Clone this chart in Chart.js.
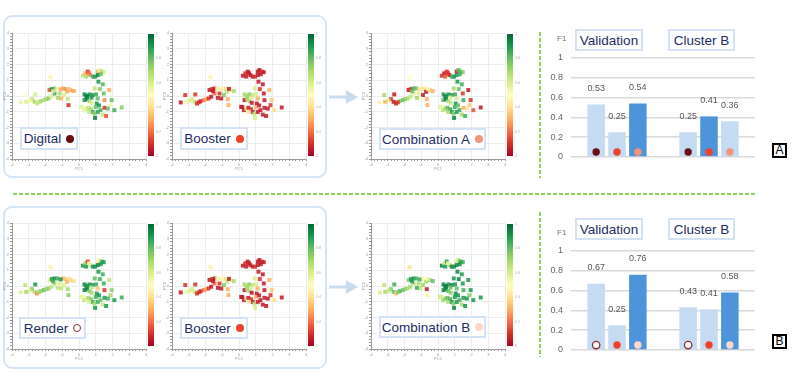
<!DOCTYPE html>
<html>
<head>
<meta charset="utf-8">
<script src="https://cdn.jsdelivr.net/npm/chart.js@4"></script>
<style>
    body { margin: 0; width: 796px; height: 379px; background: #fff; position: relative; overflow: hidden;
           font-family: "Liberation Sans", Arial, sans-serif; }
    canvas { position: absolute; }
    .panel { position: absolute; border: 2px solid #d6e5f5; border-radius: 9px; box-sizing: border-box; }
    .tag { position: absolute; box-sizing: border-box; border: 2px solid #d3e2f4; background: #fff; color: #1d2c66;
           font-size: 13.5px; display: flex; align-items: center; justify-content: center; white-space: nowrap; }
    .dot { display: inline-block; width: 8px; height: 8px; border-radius: 50%; margin-left: 5px; box-sizing: border-box; }
    .f1 { position: absolute; font-size: 8px; color: #777; }
    .letter { position: absolute; width: 15px; height: 15px; border: 2px solid #000; box-sizing: border-box; background: #fff;
              font-size: 12px; line-height: 11px; text-align: center; color: #000; }
    svg { position: absolute; left: 0; top: 0; }
</style>
</head>
<body>
<div class="panel" style="left:3px;top:15px;width:324px;height:163px"></div>
<div class="panel" style="left:3px;top:206px;width:324px;height:163px"></div>

<svg width="796" height="379">
    <g stroke="#92d050" stroke-width="2" stroke-dasharray="4 2" fill="none">
        <line x1="13" y1="194" x2="757" y2="194"/>
        <line x1="540" y1="32" x2="540" y2="178"/>
        <line x1="540" y1="212" x2="540" y2="357"/>
    </g>
    <g stroke="#c8dbef" stroke-width="3" fill="#c8dbef">
        <line x1="329" y1="97" x2="348" y2="97"/>
        <polygon points="346,90 358,97 346,104" stroke="none"/>
        <line x1="329" y1="287" x2="348" y2="287"/>
        <polygon points="346,280 358,287 346,294" stroke="none"/>
    </g>
</svg>

<canvas id="sc-digital" width="160" height="142" style="left:2px;top:29px"></canvas>
<canvas id="sc-booster-a" width="160" height="142" style="left:162px;top:29px"></canvas>
<canvas id="sc-combo-a" width="160" height="142" style="left:361px;top:29px"></canvas>
<canvas id="sc-render" width="160" height="142" style="left:2px;top:219px"></canvas>
<canvas id="sc-booster-b" width="160" height="142" style="left:162px;top:219px"></canvas>
<canvas id="sc-combo-b" width="160" height="142" style="left:361px;top:219px"></canvas>

<div class="tag" style="left:20px;top:127px;width:58px;height:23px">Digital<span class="dot" style="background:#6d0d16"></span></div>
<div class="tag" style="left:180px;top:127px;width:68px;height:23px">Booster<span class="dot" style="background:#f2412b"></span></div>
<div class="tag" style="left:379px;top:128px;width:107px;height:22px">Combination A<span class="dot" style="background:#f4937a"></span></div>
<div class="tag" style="left:19px;top:317px;width:67px;height:22px">Render<span class="dot" style="background:#fff;border:1.5px solid #8b2a32"></span></div>
<div class="tag" style="left:180px;top:317px;width:68px;height:22px">Booster<span class="dot" style="background:#f2412b"></span></div>
<div class="tag" style="left:379px;top:316px;width:107px;height:22px">Combination B<span class="dot" style="background:#fcd9c9"></span></div>

<canvas id="bar-a" width="215" height="111" style="left:545px;top:50px"></canvas>
<canvas id="bar-b" width="215" height="111" style="left:545px;top:243px"></canvas>

<div class="tag" style="left:575px;top:29px;width:68px;height:22px">Validation</div>
<div class="tag" style="left:668px;top:29px;width:67px;height:22px">Cluster B</div>
<div class="tag" style="left:575px;top:218px;width:68px;height:22px">Validation</div>
<div class="tag" style="left:668px;top:218px;width:67px;height:22px">Cluster B</div>
<div class="f1" style="left:557px;top:34px">F1</div>
<div class="f1" style="left:557px;top:228px">F1</div>
<div class="letter" style="left:772px;top:143px">A</div>
<div class="letter" style="left:772px;top:334px">B</div>

<script>
'use strict';

// ---- embedding positions (PC1, PC2), shared by all six maps ----
const pcX = [
    -3.48, -3.21, -3.15, -2.81, -2.61, -2.65, -2.51, -2.29, -2.10, -1.96,
    -1.82, -1.66, -1.70, -1.76, -1.62, -1.46, -1.30, -1.16, -0.96, -0.80,
    -0.71, -0.51, -0.31, -0.90, -1.06, -0.67, -0.63, -1.26, -1.46, -2.95,
    -2.40, -1.55, -1.10, -0.60,
    0.23, 0.37, 0.52, 0.68, 0.82, 0.96, 1.12, 1.22, 1.36, 1.48,
    1.12, 0.43, 1.16, 1.42, 0.94, 1.24, 1.81, 0.60, 1.30,
    0.33, 0.43, 0.33, 0.48, 0.62, 0.82, 1.02, 1.12, 1.48, 1.52,
    1.95, 1.52, 1.88, 2.11, 2.55, 0.13, 0.29, 0.43, 0.56, 0.72,
    0.82, 0.96, 0.92, 1.12, 1.28, 1.42, 1.62, 1.72, 0.62, 0.76,
    1.06, 0.50, 0.75, 0.20, 1.00, 1.20, 0.60
];
const pcY = [
    -0.41, 0.06, -0.37, -0.20, 0.10, -0.37, -0.48, -0.33, -0.26, -0.20,
    -0.16, -0.05, 1.19, 0.38, 0.44, 0.48, 0.48, 0.16, 0.48, 0.44,
    0.27, 0.38, 0.31, 0.06, -0.16, -0.20, -0.58, -0.12, 0.16, -0.30,
    -0.40, 0.30, 0.42, 0.45,
    1.29, 1.44, 1.55, 1.33, 1.23, 1.23, 1.55, 1.65, 1.55, 1.51,
    1.33, 1.23, 0.91, 0.74, 0.48, 0.44, 0.38, 1.45, 1.38,
    0.10, -0.05, -0.26, -0.20, 0.10, 0.06, 0.10, -0.16, 0.16, -0.26,
    -0.26, -0.75, -0.58, -0.90, -0.73, -0.69, -0.90, -0.80, -0.75, -0.84,
    -1.01, -1.39, -1.12, -1.01, -0.90, -1.18, -1.27, -0.80, -0.33, -0.43,
    -0.48, 0.00, -0.10, -0.70, -0.70, -0.60, -1.00
];

// ---- per-point scores (0..1) for each method ----
const valDigital = [
    0.55, 0.5, 0.6, 0.65, 0.6, 0.7, 0.62, 0.72, 0.68, 0.7,
    0.75, 0.6, 0.45, 0.15, 0.92, 0.8, 0.45, 0.7, 0.28, 0.25,
    0.3, 0.3, 0.28, 0.6, 0.3, 0.65, 0.08, 0.7, 0.85, 0.55,
    0.65, 0.6, 0.3, 0.35,
    0.65, 0.3, 0.1, 0.25, 0.85, 0.9, 0.3, 0.55, 0.7, 0.6,
    0.95, 0.7, 0.9, 0.82, 0.65, 0.75, 0.3, 0.2, 0.8,
    0.95, 0.9, 0.92, 0.95, 0.9, 0.9, 0.85, 0.8, 0.8, 0.25,
    0.8, 0.1, 0.55, 0.85, 0.75, 0.6, 0.55, 0.6, 0.65, 0.7,
    0.85, 0.97, 0.75, 0.88, 0.85, 0.65, 0.15, 0.8, 0.7, 0.6,
    0.9, 0.95, 0.9, 0.55, 0.8, 0.9, 0.65
];
const valBooster = [
    0.05, 0.1, 0.55, 0.6, 0.1, 0.65, 0.1, 0.05, 0.2, 0.3,
    0.1, 0.05, 0.45, 0.05, 0.1, 0.05, 0.55, 0.1, 0.5, 0.6,
    0.65, 0.55, 0.7, 0.75, 0.05, 0.3, 0.3, 0.05, 0.2, 0.6,
    0.1, 0.05, 0.45, 0.05,
    0.05, 0.1, 0.05, 0.05, 0.05, 0.1, 0.05, 0.05, 0.1, 0.05,
    0.05, 0.05, 0.05, 0.05, 0.6, 0.1, 0.3, 0.05, 0.05,
    0.7, 0.65, 0.05, 0.7, 0.75, 0.65, 0.6, 0.3, 0.05, 0.05,
    0.35, 0.05, 0.1, 0.4, 0.05, 0.05, 0.05, 0.4, 0.05, 0.1,
    0.05, 0.6, 0.65, 0.05, 0.05, 0.05, 0.05, 0.05, 0.7, 0.05,
    0.05, 0.7, 0.6, 0.05, 0.3, 0.05, 0.4
];
const valComboA = [
    0.45, 0.7, 0.3, 0.1, 0.05, 0.05, 0.08, 0.75, 0.8, 0.75,
    0.7, 0.65, 0.5, 0.05, 0.1, 0.85, 0.8, 0.6, 0.45, 0.4,
    0.05, 0.35, 0.3, 0.05, 0.5, 0.3, 0.3, 0.7, 0.6, 0.6,
    0.1, 0.8, 0.4, 0.45,
    0.1, 0.05, 0.1, 0.05, 0.85, 0.9, 0.05, 0.8, 0.85, 0.75,
    0.9, 0.15, 0.9, 0.85, 0.7, 0.8, 0.05, 0.1, 0.85,
    0.9, 0.95, 0.85, 0.95, 0.9, 0.9, 0.85, 0.6, 0.1, 0.85,
    0.1, 0.3, 0.35, 0.15, 0.05, 0.6, 0.65, 0.7, 0.8, 0.85,
    0.9, 0.95, 0.75, 0.9, 0.85, 0.7, 0.85, 0.4, 0.7, 0.65,
    0.9, 0.9, 0.6, 0.55, 0.85, 0.8, 0.7
];
const valRender = [
    0.6, 0.65, 0.7, 0.75, 0.9, 0.7, 0.25, 0.75, 0.8, 0.7,
    0.75, 0.65, 0.45, 0.6, 0.9, 0.92, 0.85, 0.6, 0.3, 0.35,
    0.3, 0.35, 0.4, 0.6, 0.65, 0.7, 0.75, 0.65, 0.7, 0.6,
    0.7, 0.85, 0.9, 0.4,
    0.9, 0.7, 0.1, 0.6, 0.9, 0.92, 0.45, 0.55, 0.85, 0.9,
    0.95, 0.9, 0.9, 0.85, 0.8, 0.85, 0.65, 0.55, 0.9,
    0.95, 0.9, 0.95, 0.95, 0.9, 0.9, 0.85, 0.35, 0.85, 0.1,
    0.75, 0.9, 0.7, 0.9, 0.85, 0.6, 0.65, 0.6, 0.7, 0.75,
    0.85, 0.9, 0.7, 0.85, 0.8, 0.65, 0.9, 0.85, 0.75, 0.7,
    0.9, 0.9, 0.65, 0.55, 0.85, 0.9, 0.6
];
const valComboB = [
    0.6, 0.65, 0.7, 0.75, 0.85, 0.8, 0.35, 0.85, 0.8, 0.75,
    0.7, 0.7, 0.4, 0.75, 0.9, 0.9, 0.85, 0.7, 0.45, 0.5,
    0.7, 0.75, 0.8, 0.7, 0.65, 0.05, 0.45, 0.85, 0.7, 0.65,
    0.75, 0.9, 0.85, 0.55,
    0.95, 0.6, 0.9, 0.7, 0.95, 0.92, 0.6, 0.65, 0.9, 0.85,
    0.95, 0.9, 0.95, 0.9, 0.9, 0.95, 0.9, 0.55, 0.92,
    0.95, 0.95, 0.95, 0.95, 0.9, 0.95, 0.9, 0.8, 0.9, 0.85,
    0.9, 0.9, 0.75, 0.9, 0.9, 0.65, 0.7, 0.75, 0.8, 0.85,
    0.9, 0.95, 0.75, 0.9, 0.85, 0.7, 0.92, 0.9, 0.8, 0.75,
    0.95, 0.95, 0.8, 0.6, 0.9, 0.9, 0.7
];

// ---- F1 bars ----
const groups = ["Validation", "Cluster B"];
const f1Digital = [0.53, 0.25];
const f1BoosterA = [0.25, 0.41];
const f1ComboA = [0.54, 0.36];
const f1Render = [0.67, 0.43];
const f1BoosterB = [0.25, 0.41];
const f1ComboB = [0.76, 0.58];

const axisTicks = [-4, -3, -2, -1, 0, 1, 2, 3, 4];
const colorbarTicks = [0, 0.2, 0.4, 0.6, 0.8, 1];

const FONT = '"Liberation Sans", Arial, sans-serif';
const RDYLGN = ["#a50026", "#d73027", "#f46d43", "#fdae61", "#fee08b", "#ffffbf",
                "#d9ef8b", "#a6d96a", "#66bd63", "#1a9850", "#006837"];

function hexToRgb(h) {
    return [parseInt(h.slice(1, 3), 16), parseInt(h.slice(3, 5), 16), parseInt(h.slice(5, 7), 16)];
}

function rdYlGn(v, alpha = 1) {
    const t = Math.max(0, Math.min(1, v)) * (RDYLGN.length - 1);
    const i = Math.min(Math.floor(t), RDYLGN.length - 2);
    const f = t - i;
    const a = hexToRgb(RDYLGN[i]);
    const b = hexToRgb(RDYLGN[i + 1]);
    const c = a.map((x, k) => Math.round(x + (b[k] - x) * f));
    return `rgba(${c[0]},${c[1]},${c[2]},${alpha})`;
}

const isWhole = v => Math.abs(v - Math.round(v)) < 1e-6;

const colorbarPlugin = {
    id: "colorbar",
    afterDraw(chart) {
        const { ctx, chartArea } = chart;
        const x = chartArea.right + 2;
        const top = chartArea.top + 1;
        const bottom = chartArea.bottom - 3;
        const grad = ctx.createLinearGradient(0, bottom, 0, top);
        RDYLGN.forEach((c, i) => grad.addColorStop(i / (RDYLGN.length - 1), c));
        ctx.save();
        ctx.fillStyle = grad;
        ctx.fillRect(x, top, 6, bottom - top);
        ctx.fillStyle = "#aaa";
        ctx.font = `3.5px ${FONT}`;
        ctx.textBaseline = "middle";
        colorbarTicks.forEach(t => {
            ctx.fillText(String(t), x + 8, bottom - (bottom - top) * t);
        });
        ctx.restore();
    }
};

function pcAxis(title, fitKey, fitSize) {
    return {
        type: "linear",
        min: axisTicks[0],
        max: axisTicks[axisTicks.length - 1],
        afterFit: scale => {
            scale[fitKey] = fitSize;
            scale.paddingTop = scale.paddingBottom = scale.paddingLeft = scale.paddingRight = 0;
        },
        ticks: {
            stepSize: 0.2,
            autoSkip: false,
            maxRotation: 0,
            padding: 1,
            color: "#999",
            font: { size: 4, family: FONT },
            callback: v => (isWhole(v) && axisTicks.includes(Math.round(v)) ? String(Math.round(v)) : "")
        },
        grid: {
            color: c => (c.tick && isWhole(c.tick.value) ? "#ededed" : "rgba(0,0,0,0)"),
            tickColor: "#9a9a9a",
            tickLength: 2,
            lineWidth: 1
        },
        border: { color: "#9a9a9a", width: 1 },
        title: { display: true, text: title, color: "#999", font: { size: 4, family: FONT }, padding: 0 }
    };
}

function makeScatter(id, values) {
    const points = pcX.map((x, i) => ({ x, y: pcY[i] }));
    return new Chart(document.getElementById(id), {
        type: "scatter",
        data: {
            datasets: [{
                data: points,
                backgroundColor: values.map(v => rdYlGn(v, 0.85)),
                borderWidth: 0,
                pointStyle: "rect",
                pointRadius: 2.8
            }]
        },
        options: {
            responsive: false,
            animation: false,
            devicePixelRatio: 1,
            layout: { padding: { top: 4, right: 16, left: 0, bottom: 0 } },
            plugins: { legend: { display: false }, tooltip: { enabled: false } },
            scales: {
                x: pcAxis("PC1", "height", 12),
                y: pcAxis("PC2", "width", 10)
            }
        },
        plugins: [colorbarPlugin]
    });
}

const barMarks = {
    id: "barMarks",
    afterDatasetsDraw(chart) {
        const { ctx } = chart;
        const yScale = chart.scales.y;
        chart.data.datasets.forEach((ds, i) => {
            chart.getDatasetMeta(i).data.forEach((bar, j) => {
                ctx.save();
                ctx.fillStyle = "#555";
                ctx.font = `9px ${FONT}`;
                ctx.textAlign = "center";
                ctx.textBaseline = "middle";
                ctx.fillText(ds.data[j].toFixed(2), bar.x, bar.y - 16);
                ctx.beginPath();
                ctx.arc(bar.x, yScale.getPixelForValue(0.05), 3.7, 0, Math.PI * 2);
                ctx.fillStyle = ds.markerFill;
                ctx.fill();
                if (ds.markerStroke) {
                    ctx.lineWidth = 1.3;
                    ctx.strokeStyle = ds.markerStroke;
                    ctx.stroke();
                }
                ctx.restore();
            });
        });
    }
};

function makeBars(id, series) {
    // darkest bar marks the best method in each group
    const best = groups.map((_, g) => Math.max(...series.map(s => s.values[g])));
    return new Chart(document.getElementById(id), {
        type: "bar",
        data: {
            labels: groups,
            datasets: series.map(s => ({
                data: s.values,
                backgroundColor: s.values.map((v, g) => (v === best[g] ? "#4d94da" : "#c4dbf1")),
                markerFill: s.fill,
                markerStroke: s.stroke,
                categoryPercentage: 0.68,
                barPercentage: 0.84
            }))
        },
        options: {
            responsive: false,
            animation: false,
            devicePixelRatio: 1,
            layout: { padding: { top: 8, right: 5, left: 0, bottom: 4 } },
            plugins: { legend: { display: false }, tooltip: { enabled: false } },
            scales: {
                x: { display: false },
                y: {
                    min: 0,
                    max: 1,
                    afterFit: scale => {
                        scale.width = 26;
                        scale.paddingTop = scale.paddingBottom = 0;
                    },
                    ticks: {
                        stepSize: 0.2,
                        padding: 8,
                        color: "#666",
                        font: { size: 9, family: FONT },
                        callback: v => String(+v.toFixed(1))
                    },
                    grid: { color: "#d9d9d9", lineWidth: 1.5, drawTicks: false },
                    border: { display: false }
                }
            }
        },
        plugins: [barMarks]
    });
}

makeScatter("sc-digital", valDigital);
makeScatter("sc-booster-a", valBooster);
makeScatter("sc-combo-a", valComboA);
makeScatter("sc-render", valRender);
makeScatter("sc-booster-b", valBooster);
makeScatter("sc-combo-b", valComboB);

makeBars("bar-a", [
    { values: f1Digital, fill: "#6d0d16" },
    { values: f1BoosterA, fill: "#f2412b" },
    { values: f1ComboA, fill: "#f4937a" }
]);
makeBars("bar-b", [
    { values: f1Render, fill: "#ffffff", stroke: "#8b2a32" },
    { values: f1BoosterB, fill: "#f2412b" },
    { values: f1ComboB, fill: "#fcd9c9" }
]);
</script>
</body>
</html>
